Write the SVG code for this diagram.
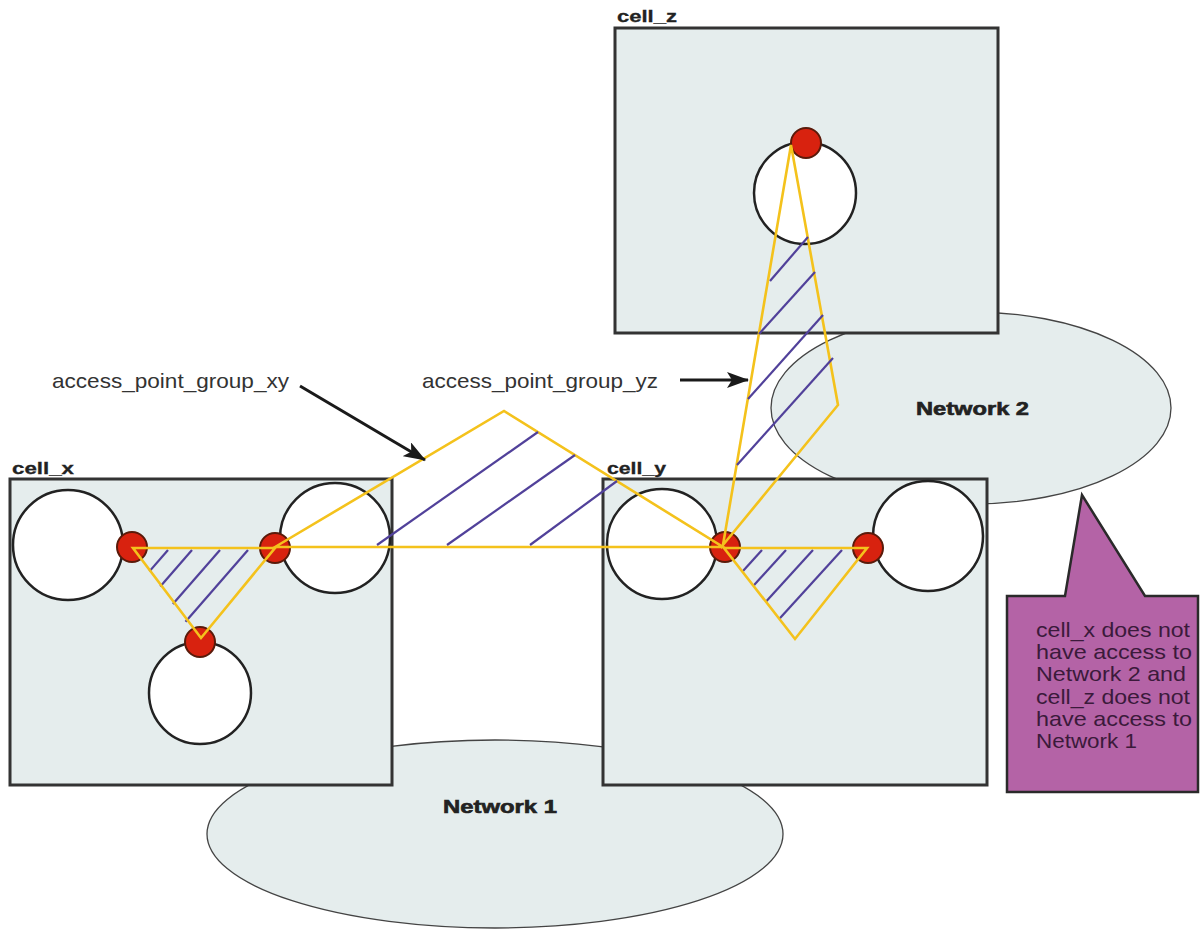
<svg xmlns="http://www.w3.org/2000/svg" width="1200" height="931" viewBox="0 0 1200 931">
  <defs>
    <style>
      .cell { fill: #e5eded; stroke: #333; stroke-width: 3; }
      .net { fill: #e5eded; stroke: #444; stroke-width: 1.3; }
      .ap { fill: #ffffff; stroke: #222; stroke-width: 2.5; }
      .dot { fill: #d8220f; stroke: #5a1a0a; stroke-width: 2; }
      .grp { fill: none; stroke: #f4c21c; stroke-width: 2.6; stroke-linejoin: miter; }
      .hatch { stroke: #51419a; stroke-width: 2.2; }
      .arrow { stroke: #1a1a1a; stroke-width: 3; fill: none; marker-end: url(#ah); }
      .celllbl { font-family: "Liberation Sans", Arial, sans-serif; font-weight: bold; font-size: 17px; fill: #222; stroke: #222; stroke-width: 0.3; }
      .netlbl { font-family: "Liberation Sans", Arial, sans-serif; font-weight: bold; font-size: 18px; fill: #222; stroke: #222; stroke-width: 0.6; }
      .lbl { font-family: "Liberation Sans", Arial, sans-serif; font-size: 21px; fill: #333; }
      .note { font-family: "Liberation Sans", Arial, sans-serif; font-size: 21px; fill: #3b1a3b; }
    </style>
    <marker id="ah" viewBox="0 0 22 16" refX="21" refY="8" markerWidth="22" markerHeight="16" markerUnits="userSpaceOnUse" orient="auto">
      <path d="M0,0 L22,8 L0,16 L5,8 z" fill="#1a1a1a"/>
    </marker>
  </defs>

  <g id="network1">
    <ellipse class="net" cx="495" cy="834" rx="288" ry="94"/>
    <text class="netlbl" x="443" y="813" textLength="114" lengthAdjust="spacingAndGlyphs">Network 1</text>
  </g>

  <g id="network2">
    <ellipse class="net" cx="971" cy="408" rx="200" ry="96"/>
  </g>

  <g id="cell_z">
    <rect class="cell" x="615" y="28" width="383" height="305"/>
    <text class="celllbl" x="617" y="22" textLength="60" lengthAdjust="spacingAndGlyphs">cell_z</text>
    <circle class="ap" cx="805" cy="193" r="51"/>
    <circle class="dot" cx="806" cy="143" r="15"/>
  </g>

  <g id="network2-label">
    <text class="netlbl" x="916" y="415" textLength="113" lengthAdjust="spacingAndGlyphs">Network 2</text>
  </g>

  <g id="cell_x">
    <rect class="cell" x="10" y="479" width="382" height="306"/>
    <text class="celllbl" x="12" y="474" textLength="62" lengthAdjust="spacingAndGlyphs">cell_x</text>
    <circle class="ap" cx="68" cy="545" r="55"/>
    <circle class="ap" cx="335" cy="538" r="55"/>
    <circle class="ap" cx="200" cy="693" r="51"/>
    <circle class="dot" cx="132" cy="547" r="15"/>
    <circle class="dot" cx="275" cy="548" r="15"/>
    <circle class="dot" cx="200" cy="642" r="15"/>
  </g>

  <g id="cell_y">
    <rect class="cell" x="603" y="479" width="384" height="306"/>
    <text class="celllbl" x="607" y="474" textLength="59" lengthAdjust="spacingAndGlyphs">cell_y</text>
    <circle class="ap" cx="662" cy="544" r="55"/>
    <circle class="ap" cx="928" cy="536" r="55"/>
    <circle class="dot" cx="725" cy="547" r="15"/>
    <circle class="dot" cx="868" cy="548" r="15"/>
  </g>

  <g id="access_point_group_xy">
    <polygon class="grp" points="275,547 504,411 723,547"/>
    <line class="hatch" x1="377" y1="545" x2="538" y2="432"/>
    <line class="hatch" x1="447" y1="545" x2="575" y2="455"/>
    <line class="hatch" x1="530" y1="545" x2="617" y2="481"/>
  </g>

  <g id="access_point_group_yz">
    <polygon class="grp" points="791,145 838,405 723,545"/>
    <line class="hatch" x1="808" y1="237" x2="770" y2="281"/>
    <line class="hatch" x1="815" y1="272" x2="759" y2="334"/>
    <line class="hatch" x1="823" y1="315" x2="748" y2="399"/>
    <line class="hatch" x1="833" y1="358" x2="737" y2="465"/>
  </g>

  <g id="group_x_internal">
    <line class="hatch" x1="168" y1="550" x2="149.4" y2="571.4"/>
    <line class="hatch" x1="192" y1="550" x2="160.3" y2="586.5"/>
    <line class="hatch" x1="220" y1="550" x2="172.9" y2="604"/>
    <line class="hatch" x1="248" y1="550" x2="185.5" y2="621.8"/>
    <polygon class="grp" points="133,548 275,548 201,638"/>
  </g>

  <g id="group_y_internal">
    <line class="hatch" x1="762" y1="550" x2="743" y2="571"/>
    <line class="hatch" x1="786" y1="550" x2="753.9" y2="585.3"/>
    <line class="hatch" x1="813" y1="550" x2="766.1" y2="601.6"/>
    <line class="hatch" x1="842" y1="550" x2="779.2" y2="619"/>
    <polygon class="grp" points="724,548 867,548 795,639"/>
  </g>

  <g id="connectors">
    <line class="arrow" x1="300" y1="386" x2="425" y2="460"/>
    <line class="arrow" x1="680" y1="380" x2="748" y2="380"/>
  </g>

  <g id="labels">
    <text class="lbl" x="52" y="388" textLength="237" lengthAdjust="spacingAndGlyphs">access_point_group_xy</text>
    <text class="lbl" x="422" y="388" textLength="236" lengthAdjust="spacingAndGlyphs">access_point_group_yz</text>
  </g>

  <g id="callout">
    <polygon points="1007,596 1065,596 1082,495 1145,596 1198,596 1198,792 1007,792" fill="#b463a6" stroke="#2a2a2a" stroke-width="2.5" stroke-linejoin="miter"/>
    <text class="note" x="1036" y="637" textLength="154" lengthAdjust="spacingAndGlyphs">cell_x does not</text>
    <text class="note" x="1036" y="659" textLength="156" lengthAdjust="spacingAndGlyphs">have access to</text>
    <text class="note" x="1036" y="681" textLength="150" lengthAdjust="spacingAndGlyphs">Network 2 and</text>
    <text class="note" x="1036" y="704" textLength="154" lengthAdjust="spacingAndGlyphs">cell_z does not</text>
    <text class="note" x="1036" y="726" textLength="156" lengthAdjust="spacingAndGlyphs">have access to</text>
    <text class="note" x="1036" y="748" textLength="101" lengthAdjust="spacingAndGlyphs">Network 1</text>
  </g>
</svg>
